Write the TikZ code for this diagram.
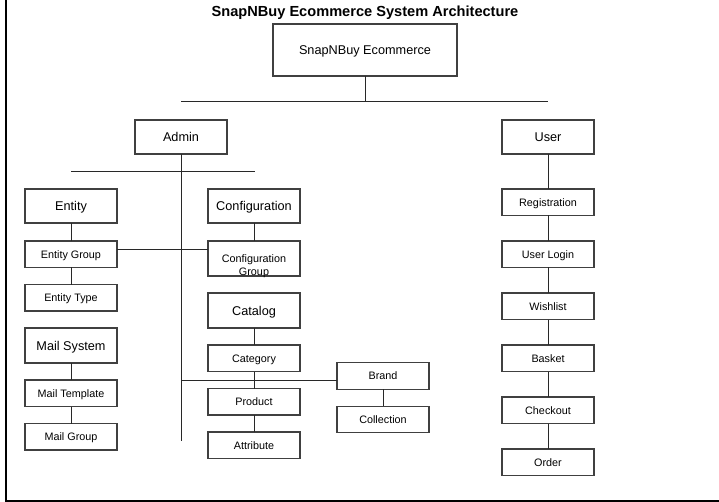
\documentclass[tikz,border=0pt]{standalone}
\usepackage{fontspec}
\setmainfont{Liberation Sans}
\usepackage{xcolor}
\definecolor{boxline}{RGB}{64,64,64}
\definecolor{wire}{RGB}{40,40,40}
\usepackage{tikz}
\usetikzlibrary{positioning,calc}

\begin{document}
\begin{tikzpicture}[
  x=1pt,y=-1pt,
  mbox/.style={rectangle,draw=boxline,line width=1.2pt,inner sep=0pt,outer sep=0pt,minimum width=92pt,minimum height=34pt,align=center,text height=9pt,text depth=0pt,font=\fontsize{12.7}{15}\selectfont},
  sbox/.style={rectangle,draw=boxline,line width=1.2pt,inner sep=0pt,outer sep=0pt,minimum width=92pt,minimum height=26.5pt,align=center,text height=7.8pt,text depth=0pt,font=\fontsize{10.8}{13}\selectfont},
  wire/.style={draw=wire,line width=1pt}
]
  \useasboundingbox (0,0) rectangle (719,502);
  % frame
  \draw[line width=1.8pt] (6,0) -- (6,501) -- (719,501);

  % title and root
  \node[text height=10.5pt,text depth=0pt,font=\fontsize{14.6}{17}\selectfont\bfseries] (title) at (365,11) {SnapNBuy Ecommerce System Architecture};
  \node[mbox,minimum width=184pt,minimum height=52pt] (root) at (365,50) {SnapNBuy Ecommerce};
  \coordinate (barL) at (181,102);
  \coordinate (barR) at (548,102);

  % Admin side
  \node[mbox] (admin) at (181,137) {Admin};
  \coordinate (adminEnd) at (181,441);
  \coordinate (subL) at (71,172);
  \coordinate (subR) at (255,172);
  \node[mbox] (entity) at (71,206) {Entity};
  \node[sbox,below=18pt of entity] (egroup) {Entity Group};
  \node[sbox,below=17pt of egroup] (etype) {Entity Type};
  \node[mbox,minimum height=35pt,below=17pt of etype] (mail) {Mail System};
  \node[sbox,below=17pt of mail] (mtemplate) {Mail Template};
  \node[sbox,below=17pt of mtemplate] (mgroup) {Mail Group};

  \node[mbox,right=91pt of entity] (config) {Configuration};
  \node[sbox,minimum height=35pt,text height=35pt,text depth=0pt,below=18pt of config] (cgroup) {Configuration\\Group};
  \node[mbox,minimum height=35pt,below=17pt of cgroup] (catalog) {Catalog};
  \node[sbox,below=17pt of catalog] (category) {Category};
  \node[sbox,below=17pt of category] (product) {Product};
  \node[sbox,below=17pt of product] (attribute) {Attribute};
  \node[sbox] (brand) at (383,376) {Brand};
  \node[sbox,below=17pt of brand] (collection) {Collection};

  % User side
  \node[mbox] (user) at (548,137) {User};
  \node[sbox,below=35pt of user] (registration) {Registration};
  \node[sbox,below=25.5pt of registration] (login) {User Login};
  \node[sbox,below=25.5pt of login] (wishlist) {Wishlist};
  \node[sbox,below=25.5pt of wishlist] (basket) {Basket};
  \node[sbox,below=25.5pt of basket] (checkout) {Checkout};
  \node[sbox,below=25.5pt of checkout] (order) {Order};

  % Connectors
  \draw[wire] (root) -- (root.south |- barL);
  \draw[wire] (barL) -- (barR);
  \draw[wire] (admin) -- (adminEnd);
  \draw[wire] (subL) -- (subR);
  \draw[wire] (entity) -- (egroup); \draw[wire] (egroup) -- (etype);
  \draw[wire] (mail) -- (mtemplate); \draw[wire] (mtemplate) -- (mgroup);
  \draw[wire] ([yshift=4.5pt]egroup.east) -- ([yshift=4.5pt]egroup.east -| cgroup.west);
  \draw[wire] (config) -- (cgroup);
  \draw[wire] (catalog) -- (category); \draw[wire] (category) -- (product);
  \draw[wire] (product) -- (attribute);
  \draw[wire] ([yshift=-4pt]brand.west -| adminEnd) -- ([yshift=-4pt]brand.west);
  \draw[wire] (brand) -- (collection);
  \draw[wire] (user) -- (registration); \draw[wire] (registration) -- (login);
  \draw[wire] (login) -- (wishlist); \draw[wire] (wishlist) -- (basket);
  \draw[wire] (basket) -- (checkout); \draw[wire] (checkout) -- (order);
\end{tikzpicture}
\end{document}
